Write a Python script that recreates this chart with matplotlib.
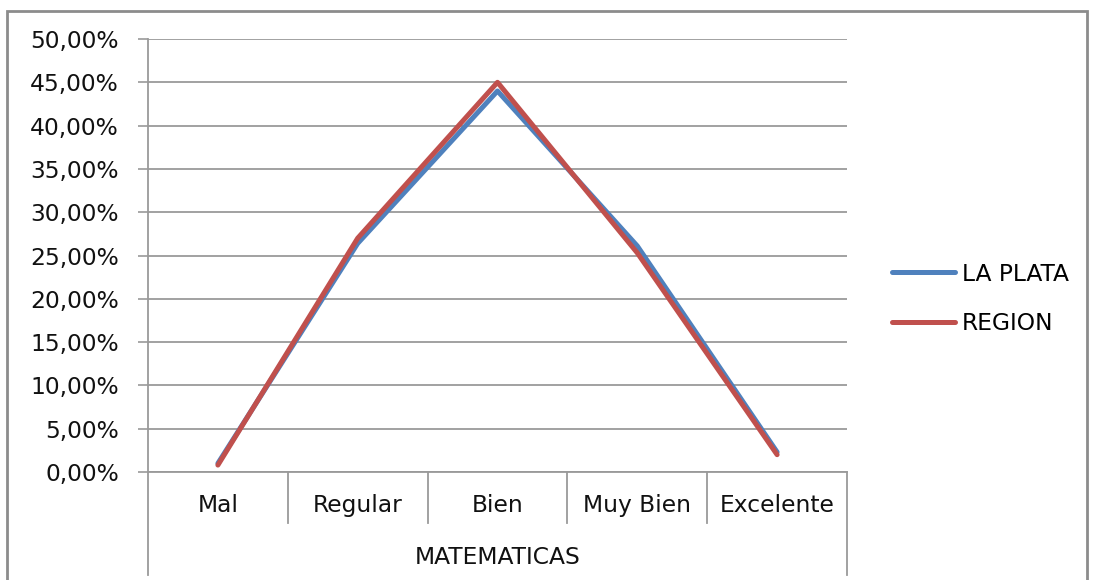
import numpy as np
import matplotlib.pyplot as plt
from matplotlib.patches import Rectangle

# data
categories = ['Mal', 'Regular', 'Bien', 'Muy Bien', 'Excelente']
group_label = 'MATEMATICAS'
la_plata = [1.0, 26.4, 44.0, 26.1, 2.3]
region = [0.8, 27.0, 45.0, 25.3, 2.0]
series_names = ['LA PLATA', 'REGION']
yticks = [0, 5, 10, 15, 20, 25, 30, 35, 40, 45, 50]
ytick_labels = ['%.2f%%' % v for v in yticks]
ytick_labels = [s.replace('.', ',') for s in ytick_labels]

blue = '#4F81BD'
red = '#C0504D'
grid_col = '#9A9A9A'
txt_col = '#111111'
fs = 16.8

plt.rcParams['font.family'] = ['DejaVu Sans']

W, H = 1094, 580
fig = plt.figure(figsize=(W / 100, H / 100), dpi=100)

# plot area in pixels: x 148..847, y 39..472
ax = fig.add_axes([148 / W, 1 - 472 / H, (847 - 148) / W, (472 - 39) / H])

x = np.arange(len(categories))
ax.plot(x, la_plata, color=blue, lw=3.6, solid_capstyle='round',
        solid_joinstyle='round', label=series_names[0], zorder=3)
ax.plot(x, region, color=red, lw=3.6, solid_capstyle='round',
        solid_joinstyle='round', label=series_names[1], zorder=4)

ax.set_xlim(-0.5, len(categories) - 0.5)
ax.set_ylim(0, 50)
ax.set_yticks(yticks)
ax.set_yticklabels(ytick_labels, fontsize=fs, color=txt_col)
ax.yaxis.grid(True, color=grid_col, lw=1.3)
ax.set_axisbelow(True)
ax.tick_params(axis='y', length=7, width=1.2, color=grid_col, pad=14)

ax.set_xticks(x)
ax.set_xticklabels(categories, fontsize=fs, color=txt_col)
ax.tick_params(axis='x', length=0, pad=16)

for side in ['top', 'right']:
    ax.spines[side].set_visible(False)
for side in ['left', 'bottom']:
    ax.spines[side].set_color(grid_col)
    ax.spines[side].set_linewidth(1.3)

# multi-level category axis boxes
trans = ax.get_xaxis_transform()
inner = -(523 - 472) / (472 - 39)
outer = -(575 - 472) / (472 - 39)
for i in range(len(categories) + 1):
    b = i - 0.5
    y_end = outer if i in (0, len(categories)) else inner
    ax.plot([b, b], [0, y_end], color=grid_col, lw=1.3, transform=trans,
            clip_on=False)
ax.text((len(categories) - 1) / 2, -(557 - 472) / (472 - 39), group_label,
        transform=trans, ha='center', va='center', fontsize=fs,
        color=txt_col)

# legend on the right
ax.legend(loc='center left', bbox_to_anchor=(892 / W, 1 - 299 / H),
          bbox_transform=fig.transFigure, frameon=False, fontsize=fs,
          handlelength=2.7, handletextpad=0.3, labelspacing=1.15,
          borderpad=0, borderaxespad=0)

# chart border
fig.patches.append(Rectangle((7 / W, -0.05), (1087 - 7) / W, 1.05 - 11 / H,
                             transform=fig.transFigure, fill=False,
                             edgecolor='#8C8C8C', lw=2))

fig.savefig('out.png', dpi=100)
